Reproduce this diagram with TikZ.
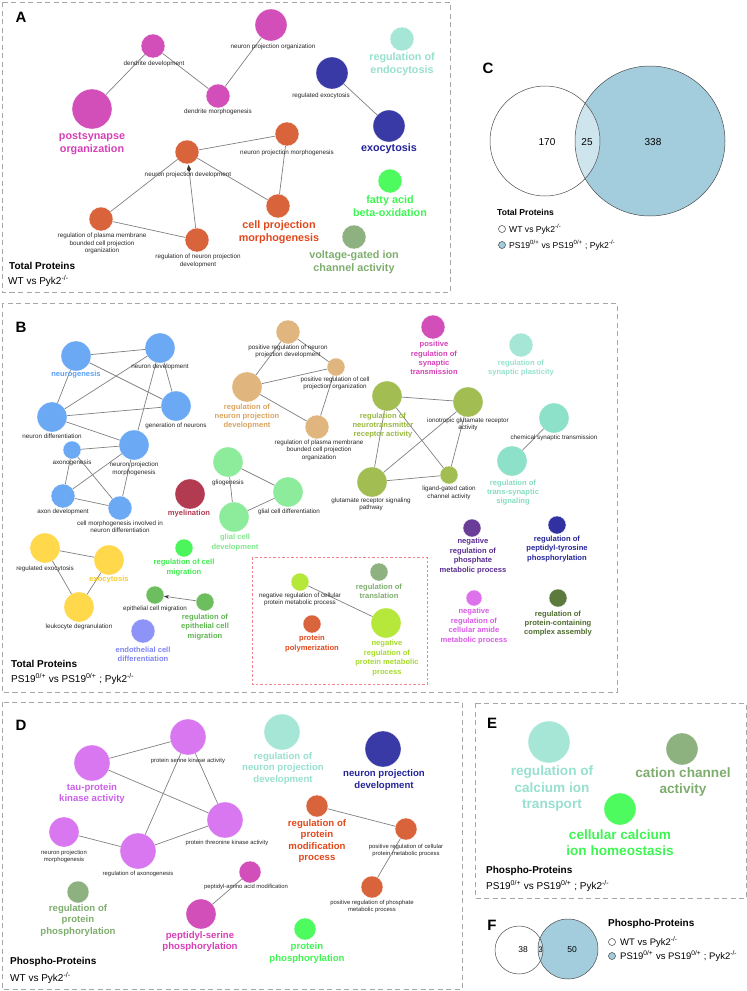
\documentclass[tikz,border=0pt]{standalone}
\usepackage{fontspec}
\setmainfont{Liberation Sans}
\usetikzlibrary{arrows.meta}
\definecolor{cMag}{HTML}{D24FB9}\definecolor{cMagT}{HTML}{D640B6}
\definecolor{cNavy}{HTML}{3A3AA6}\definecolor{cNavyT}{HTML}{24249A}
\definecolor{cLTeal}{HTML}{A6E6D6}\definecolor{cLTealT}{HTML}{97E0CE}
\definecolor{cBGrn}{HTML}{4DFB5F}\definecolor{cBGrnT}{HTML}{3EF552}
\definecolor{cSage}{HTML}{8EB180}\definecolor{cSageT}{HTML}{7EAD6E}
\definecolor{cOra}{HTML}{D9633A}\definecolor{cOraT}{HTML}{E0481C}
\definecolor{cBlue}{HTML}{6BA9F5}\definecolor{cBlueT}{HTML}{5AA0F5}
\definecolor{cTan}{HTML}{E0B67E}\definecolor{cTanT}{HTML}{D9A35E}
\definecolor{cOlive}{HTML}{A2BE52}\definecolor{cOliveT}{HTML}{98B83E}
\definecolor{cTeal}{HTML}{8DE1C9}\definecolor{cTealT}{HTML}{86DCC2}
\definecolor{cGlia}{HTML}{8DEB9C}\definecolor{cGliaT}{HTML}{7EE88A}
\definecolor{cMaroon}{HTML}{B23A51}
\definecolor{cYel}{HTML}{FFD84B}\definecolor{cYelT}{HTML}{F5CC2A}
\definecolor{cGrn}{HTML}{4CF55C}\definecolor{cGrnT}{HTML}{3DEB4E}
\definecolor{cEpi}{HTML}{6DBE5F}\definecolor{cEpiT}{HTML}{5FB650}
\definecolor{cPeri}{HTML}{8E93F8}\definecolor{cPeriT}{HTML}{7F84F5}
\definecolor{cLime}{HTML}{B6E83B}\definecolor{cLimeT}{HTML}{A6DB2A}
\definecolor{cPurp}{HTML}{6A3E98}\definecolor{cPurpT}{HTML}{5A2D8F}
\definecolor{cNavyB}{HTML}{3131A1}\definecolor{cNavyBT}{HTML}{26269A}
\definecolor{cPink}{HTML}{DD72EC}\definecolor{cPinkT}{HTML}{D85AE8}
\definecolor{cDOlive}{HTML}{5B7A3B}\definecolor{cDOliveT}{HTML}{4D6B2F}
\definecolor{cViol}{HTML}{D877F0}\definecolor{cViolT}{HTML}{CC60EA}
\definecolor{cVenn}{HTML}{A3CDDD}\definecolor{cVennL}{HTML}{CFE5ED}
\definecolor{cRed}{HTML}{F2838C}
\tikzset{
 gon/.style={circle,fill=#1,draw=white,line width=0.3pt,inner sep=0pt,outer sep=0pt},
 sl/.style={font=\fontsize{6.3}{7.4}\selectfont,align=center,inner sep=0pt,text=black!85},
 sd/.style={font=\fontsize{5.9}{7}\selectfont,align=center,inner sep=0pt,text=black!85},
 bA/.style={font=\bfseries\fontsize{10.8}{12.8}\selectfont,align=center,inner sep=0pt,text=#1},
 bB/.style={font=\bfseries\fontsize{7.6}{9.4}\selectfont,align=center,inner sep=0pt,text=#1},
 bD/.style={font=\bfseries\fontsize{9.6}{11.5}\selectfont,align=center,inner sep=0pt,text=#1},
 bE/.style={font=\bfseries\fontsize{13.6}{16.6}\selectfont,align=center,inner sep=0pt,text=#1},
 lnk/.style={draw=black!50,line width=0.7pt},
 arr/.style={lnk,-{Stealth[length=5pt,width=3.6pt,color=black!80]}},
 karr/.style={lnk,-{Kite[length=7pt,width=4pt,inset'=2.5pt,color=black!80]}},
 panel/.style={draw=black!35,line width=0.8pt,dash pattern=on 5pt off 3.5pt},
 plet/.style={font=\bfseries\fontsize{15}{15}\selectfont,inner sep=0pt},
 capB/.style={font=\bfseries\fontsize{10}{12}\selectfont,anchor=west,inner sep=0pt},
 capR/.style={font=\fontsize{10}{12}\selectfont,anchor=west,inner sep=0pt},
 legB/.style={font=\bfseries\fontsize{8.6}{10}\selectfont,anchor=west,inner sep=0pt},
 legR/.style={font=\fontsize{8.6}{10}\selectfont,anchor=west,inner sep=0pt},
 num/.style={font=\fontsize{10}{12}\selectfont,inner sep=0pt},
 lmk/.style={circle,draw=black!75,line width=0.5pt,minimum size=7pt,inner sep=0pt,fill=#1},
}
\begin{document}
\begin{tikzpicture}[x=1pt,y=-1pt]
\useasboundingbox (0,0) rectangle (747,991);
% ---------------- panel boxes
\draw[panel] (2,2) rectangle (450,292);
\draw[panel] (2,303) rectangle (617,692);
\draw[panel] (2,702) rectangle (462,989);
\draw[panel] (475,703) rectangle (746,898);
\draw[draw=cRed,line width=0.7pt,dash pattern=on 2.5pt off 2pt] (252,557) rectangle (427,684);
% ---------------- panel A
\node[plet] (pA) at (21,17) {A};
\node[gon=cMag,minimum size=24] (a1) at (153,46) {};
\node[gon=cMag,minimum size=40] (a2) at (92,109) {};
\node[gon=cMag,minimum size=24] (a3) at (218,96) {};
\node[gon=cMag,minimum size=32] (a4) at (271,25) {};
\node[gon=cNavy,minimum size=32] (a5) at (332,73) {};
\node[gon=cNavy,minimum size=32] (a6) at (389,126) {};
\node[gon=cLTeal,minimum size=24] (a7) at (402,39) {};
\node[gon=cBGrn,minimum size=24] (a8) at (390,181) {};
\node[gon=cSage,minimum size=24] (a9) at (354,237) {};
\node[gon=cOra,minimum size=24] (a10) at (187,152) {};
\node[gon=cOra,minimum size=24] (a11) at (287,134) {};
\node[gon=cOra,minimum size=24] (a12) at (278,206) {};
\node[gon=cOra,minimum size=24] (a13) at (101,219) {};
\node[gon=cOra,minimum size=24] (a14) at (197,240) {};
\draw[lnk] (a1) -- (a2); \draw[lnk] (a1) -- (a3); \draw[lnk] (a3) -- (a4);
\draw[lnk] (a5) -- (a6);
\draw[lnk] (a10) -- (a11); \draw[lnk] (a10) -- (a12); \draw[lnk] (a10) -- (a13);
\draw[lnk] (a13) -- (a14); \draw[lnk] (a11) -- (a12);
\draw[karr,shorten >=1pt] (a14) -- (a10);
\node[sl] (a1l) at (154,64) {dendrite development};
\node[bA=cMagT] (a2l) at (92,143.5) {postsynapse\\organization};
\node[sl] (a3l) at (218,112) {dendrite morphogenesis};
\node[sl] (a4l) at (273,47) {neuron projection organization};
\node[sl] (a5l) at (321,96) {regulated exocytosis};
\node[bA=cNavyT] (a6l) at (389,149) {exocytosis};
\node[bA=cLTealT] (a7l) at (402,64.5) {regulation of\\endocytosis};
\node[bA=cBGrnT] (a8l) at (390,206.5) {fatty acid\\beta-oxidation};
\node[bA=cSageT] (a9l) at (354,262.5) {voltage-gated ion\\channel activity};
\node[sl] (a10l) at (188,175) {neuron projection development};
\node[sl] (a11l) at (287,153) {neuron projection morphogenesis};
\node[bA=cOraT] (a12l) at (279,232.5) {cell projection\\morphogenesis};
\node[sl] (a13l) at (102,243.5) {regulation of plasma membrane\\bounded cell projection\\organization};
\node[sl] (a14l) at (198,261) {regulation of neuron projection\\development};
\node[capB] (a15) at (9,266) {Total Proteins};
\node[capR] (a16) at (8,281) {WT vs Pyk2\textsuperscript{-/-}};
% ---------------- panel C
\node[plet] (pC) at (488,68) {C};
\node[circle,fill=cVenn,minimum size=150,inner sep=0pt] (cR) at (650,141) {};
\node[circle,fill=white,minimum size=110,inner sep=0pt] (cL) at (545,141) {};
\begin{scope}
\clip (545,141) circle (55pt);
\fill[cVennL] (650,141) circle (75pt);
\end{scope}
\draw[black!70,line width=0.5pt] (650,141) circle (75pt);
\draw[black!70,line width=0.5pt] (545,141) circle (55pt);
\node[num] (c1) at (547,142) {170};
\node[num] (c2) at (587,142) {25};
\node[num] (c3) at (653,142) {338};
\node[legB] (c4) at (497,212) {Total Proteins};
\node[lmk=white] (c5) at (502,229) {};
\node[legR] (c6) at (509,229) {WT vs Pyk2\textsuperscript{-/-}};
\node[lmk=cVenn] (c7) at (502,245) {};
\node[legR] (c8) at (509,245) {PS19\textsuperscript{0/+} vs PS19\textsuperscript{0/+} ; Pyk2\textsuperscript{-/-}};
% ---------------- panel B
\node[plet] (pB) at (21,327) {B};
\node[gon=cBlue,minimum size=30] (b1) at (76,356) {};
\node[gon=cBlue,minimum size=30] (b2) at (160,348) {};
\node[gon=cBlue,minimum size=30] (b3) at (176,406) {};
\node[gon=cBlue,minimum size=30] (b4) at (52,417) {};
\node[gon=cBlue,minimum size=30] (b5) at (134,445) {};
\node[gon=cBlue,minimum size=18] (b6) at (72,450) {};
\node[gon=cBlue,minimum size=24] (b7) at (63,496) {};
\node[gon=cBlue,minimum size=24] (b8) at (120,508) {};
\draw[lnk] (b1) -- (b2); \draw[lnk] (b1) -- (b3); \draw[lnk] (b1) -- (b4);
\draw[lnk] (b4) -- (b2); \draw[lnk] (b4) -- (b3); \draw[lnk] (b4) -- (b5);
\draw[lnk] (b2) -- (b3); \draw[lnk] (b2) -- (b5); \draw[lnk] (b6) -- (b5);
\draw[lnk] (b6) -- (b7); \draw[lnk] (b6) -- (b8); \draw[lnk] (b5) -- (b7);
\draw[lnk] (b5) -- (b8); \draw[lnk] (b7) -- (b8);
\node[bB=cBlueT] (b1l) at (76,375) {neurogenesis};
\node[sl] (b2l) at (160,367) {neuron development};
\node[sl] (b3l) at (176,426) {generation of neurons};
\node[sl] (b4l) at (52,436) {neuron differentiation};
\node[sl] (b5l) at (134,469) {neuron projection\\morphogenesis};
\node[sl] (b6l) at (72,463) {axonogenesis};
\node[sl] (b7l) at (63,512) {axon development};
\node[sl] (b8l) at (120,527) {cell morphogenesis involved in\\neuron differentiation};
% tan
\node[gon=cTan,minimum size=24] (b9) at (288,332) {};
\node[gon=cTan,minimum size=30] (b10) at (247,387) {};
\node[gon=cTan,minimum size=18] (b11) at (336,367) {};
\node[gon=cTan,minimum size=24] (b12) at (317,427) {};
\draw[lnk] (b9) -- (b10); \draw[lnk] (b9) -- (b11); \draw[lnk] (b10) -- (b11);
\draw[lnk] (b10) -- (b12); \draw[lnk] (b11) -- (b12);
\node[sl] (b9l) at (288,351.5) {positive regulation of neuron\\projection development};
\node[bB=cTanT] (b10l) at (247,416.5) {regulation of\\neuron projection\\development};
\node[sl] (b11l) at (335,383.5) {positive regulation of cell\\projection organization};
\node[sl] (b12l) at (319,450) {regulation of plasma membrane\\bounded cell projection\\organization};
% magenta
\node[gon=cMag,minimum size=24] (b13) at (433,327) {};
\node[bB=cMagT] (b13l) at (434,358) {positive\\regulation of\\synaptic\\transmission};
% olive
\node[gon=cOlive,minimum size=30] (b14) at (387,396) {};
\node[gon=cOlive,minimum size=30] (b15) at (468,402) {};
\node[gon=cOlive,minimum size=30] (b16) at (372,482) {};
\node[gon=cOlive,minimum size=18] (b17) at (449,475) {};
\draw[lnk] (b14) -- (b15); \draw[lnk] (b14) -- (b16); \draw[lnk] (b14) -- (b17);
\draw[lnk] (b15) -- (b16); \draw[lnk] (b15) -- (b17); \draw[lnk] (b16) -- (b17);
\node[bB=cOliveT] (b14l) at (383,425.5) {regulation of\\neurotransmitter\\receptor activity};
\node[sl] (b15l) at (468,424.5) {ionotropic glutamate receptor\\activity};
\node[sl] (b16l) at (371,504.5) {glutamate receptor signaling\\pathway};
\node[sl] (b17l) at (449,493) {ligand-gated cation\\channel activity};
% teal
\node[gon=cLTeal,minimum size=24] (b18) at (521,345) {};
\node[gon=cTeal,minimum size=30] (b19) at (554,418) {};
\node[gon=cTeal,minimum size=30] (b20) at (512,461) {};
\draw[lnk] (b19) -- (b20);
\node[bB=cLTealT] (b18l) at (521,368) {regulation of\\synaptic plasticity};
\node[sl] (b19l) at (554,438) {chemical synaptic transmission};
\node[bB=cTealT] (b20l) at (513,492.5) {regulation of\\trans-synaptic\\signaling};
% glia
\node[gon=cGlia,minimum size=30] (b21) at (228,462) {};
\node[gon=cGlia,minimum size=30] (b22) at (288,492) {};
\node[gon=cGlia,minimum size=30] (b23) at (234,517) {};
\draw[lnk] (b21) -- (b22); \draw[lnk] (b21) -- (b23); \draw[lnk] (b22) -- (b23);
\node[sl] (b21l) at (228,483) {gliogenesis};
\node[sl] (b22l) at (289,512) {glial cell differentiation};
\node[bB=cGliaT] (b23l) at (235,542.5) {glial cell\\development};
\node[gon=cMaroon,minimum size=30] (b24) at (190,494) {};
\node[bB=cMaroon] (b24l) at (189,514) {myelination};
% yellow
\node[gon=cYel,minimum size=30] (b25) at (45,548) {};
\node[gon=cYel,minimum size=30] (b26) at (109,560) {};
\node[gon=cYel,minimum size=30] (b27) at (79,607) {};
\draw[lnk] (b25) -- (b26); \draw[lnk] (b25) -- (b27); \draw[lnk] (b26) -- (b27);
\node[sl] (b25l) at (45,569) {regulated exocytosis};
\node[bB=cYelT] (b26l) at (109,580) {exocytosis};
\node[sl] (b27l) at (79,627) {leukocyte degranulation};
% migration
\node[gon=cGrn,minimum size=18] (b28) at (184,548) {};
\node[bB=cGrnT] (b28l) at (184,567.5) {regulation of cell\\migration};
\node[gon=cEpi,minimum size=18] (b29) at (155,595) {};
\node[gon=cEpi,minimum size=18] (b30) at (205,602) {};
\draw[arr] (b30) -- (b29);
\node[sl] (b29l) at (155,609) {epithelial cell migration};
\node[bB=cEpiT] (b30l) at (205,627) {regulation of\\epithelial cell\\migration};
\node[gon=cPeri,minimum size=24] (b31) at (143,631) {};
\node[bB=cPeriT] (b31l) at (143,654.5) {endothelial cell\\differentiation};
\node[capB] (b40) at (11,664) {Total Proteins};
\node[capR] (b41) at (11,679) {PS19\textsuperscript{0/+} vs PS19\textsuperscript{0/+} ; Pyk2\textsuperscript{-/-}};
% red box content
\node[gon=cLime,minimum size=18] (b32) at (300,582) {};
\node[gon=cSage,minimum size=18] (b33) at (379,572) {};
\node[gon=cLime,minimum size=30] (b34) at (386,623) {};
\node[gon=cOra,minimum size=18] (b35) at (312,624) {};
\draw[lnk] (b32) -- (b34);
\node[sl] (b32l) at (300,599.5) {negative regulation of cellular\\protein metabolic process};
\node[bB=cSageT] (b33l) at (379,591) {regulation of\\translation};
\node[bB=cLimeT] (b34l) at (387,658) {negative\\regulation of\\protein metabolic\\process};
\node[bB=cOraT] (b35l) at (312,643.5) {protein\\polymerization};
% right column
\node[gon=cPurp,minimum size=18] (b36) at (472,528) {};
\node[bB=cPurpT] (b36l) at (473,556) {negative\\regulation of\\phosphate\\metabolic process};
\node[gon=cNavyB,minimum size=18] (b37) at (557,525) {};
\node[bB=cNavyBT] (b37l) at (557,549) {regulation of\\peptidyl-tyrosine\\phosphorylation};
\node[gon=cPink,minimum size=16] (b38) at (474,598) {};
\node[bB=cPinkT] (b38l) at (474,626) {negative\\regulation of\\cellular amide\\metabolic process};
\node[gon=cDOlive,minimum size=18] (b39) at (558,598) {};
\node[bB=cDOliveT] (b39l) at (558,623.5) {regulation of\\protein-containing\\complex assembly};
% ---------------- panel D
\node[plet] (pD) at (21,725) {D};
\node[gon=cViol,minimum size=36] (d1) at (92,763) {};
\node[gon=cViol,minimum size=36] (d2) at (188,737) {};
\node[gon=cViol,minimum size=36] (d3) at (225,820) {};
\node[gon=cViol,minimum size=36] (d4) at (138,851) {};
\node[gon=cViol,minimum size=30] (d5) at (64,832) {};
\draw[lnk] (d1) -- (d2); \draw[lnk] (d1) -- (d3); \draw[lnk] (d2) -- (d3);
\draw[lnk] (d2) -- (d4); \draw[lnk] (d3) -- (d4); \draw[lnk] (d5) -- (d4);
\node[bD=cViolT] (d1l) at (92,793.5) {tau-protein\\kinase activity};
\node[sd] (d2l) at (188,761) {protein serine kinase activity};
\node[sd] (d3l) at (227,843) {protein threonine kinase activity};
\node[sd] (d4l) at (138,874) {regulation of axonogenesis};
\node[sd] (d5l) at (64,856.5) {neuron projection\\morphogenesis};
\node[gon=cSage,minimum size=22] (d6) at (78,892) {};
\node[bD=cSageT] (d6l) at (78,920.5) {regulation of\\protein\\phosphorylation};
\node[gon=cMag,minimum size=30] (d7) at (201,914) {};
\node[gon=cMag,minimum size=22] (d8) at (250,872) {};
\draw[lnk] (d7) -- (d8);
\node[bD=cMagT] (d7l) at (200,941.5) {peptidyl-serine\\phosphorylation};
\node[sd] (d8l) at (246,887) {peptidyl-amino acid modification};
\node[gon=cLTeal,minimum size=36] (d9) at (282,732) {};
\node[bD=cLTealT] (d9l) at (283,768.5) {regulation of\\neuron projection\\development};
\node[gon=cNavy,minimum size=36] (d10) at (383,749) {};
\node[bD=cNavyT] (d10l) at (384,780) {neuron projection\\development};
\node[gon=cOra,minimum size=22] (d11) at (317,806) {};
\node[gon=cOra,minimum size=22] (d12) at (406,829) {};
\node[gon=cOra,minimum size=22] (d13) at (372,887) {};
\draw[lnk] (d11) -- (d12); \draw[lnk] (d12) -- (d13);
\node[bD=cOraT] (d11l) at (317,841) {regulation of\\protein\\modification\\process};
\node[sd] (d12l) at (406,850.5) {positive regulation of cellular\\protein metabolic process};
\node[sd] (d13l) at (372,906) {positive regulation of phosphate\\metabolic process};
\node[gon=cBGrn,minimum size=22] (d14) at (305,929) {};
\node[bD=cBGrnT] (d14l) at (307,953) {protein\\phosphorylation};
\node[capB] (d15) at (10,962) {Phospho-Proteins};
\node[capR] (d16) at (10,978) {WT vs Pyk2\textsuperscript{-/-}};
% ---------------- panel E
\node[plet] (pE) at (492,723) {E};
\node[gon=cLTeal,minimum size=42] (e1) at (549,742) {};
\node[gon=cSage,minimum size=32] (e2) at (682,749) {};
\node[gon=cBGrn,minimum size=32] (e3) at (620,809) {};
\node[bE=cLTealT] (e1l) at (552,788.5) {regulation of\\calcium ion\\transport};
\node[bE=cSageT] (e2l) at (683,782) {cation channel\\activity};
\node[bE=cBGrnT] (e3l) at (620,842.5) {cellular calcium\\ion homeostasis};
\node[capB] (e4) at (486,871) {Phospho-Proteins};
\node[capR] (e5) at (486,886) {PS19\textsuperscript{0/+} vs PS19\textsuperscript{0/+} ; Pyk2\textsuperscript{-/-}};
% ---------------- panel F
\node[plet] (pF) at (492,925) {F};
\node[circle,fill=cVenn,minimum size=60,inner sep=0pt] (fR) at (568,949) {};
\begin{scope}
\clip (519,950) circle (24pt);
\fill[cVennL] (568,949) circle (30pt);
\end{scope}
\draw[black!70,line width=0.5pt] (568,949) circle (30pt);
\draw[black!70,line width=0.5pt] (519,950) circle (24pt);
\node[font=\fontsize{8.5}{10}\selectfont,inner sep=0pt] (f1) at (523,950) {38};
\node[font=\fontsize{8}{10}\selectfont,inner sep=0pt] (f2) at (540.5,950) {3};
\node[font=\fontsize{8.5}{10}\selectfont,inner sep=0pt] (f3) at (572,950) {50};
\node[capB] (f4) at (608,924) {Phospho-Proteins};
\node[lmk=white] (f5) at (612,942) {};
\node[legR,font=\fontsize{9.5}{11}\selectfont] (f6) at (620,942) {WT vs Pyk2\textsuperscript{-/-}};
\node[lmk=cVenn] (f7) at (612,956) {};
\node[legR,font=\fontsize{9.5}{11}\selectfont] (f8) at (620,956) {PS19\textsuperscript{0/+} vs PS19\textsuperscript{0/+} ; Pyk2\textsuperscript{-/-}};
\end{tikzpicture}
\end{document}
